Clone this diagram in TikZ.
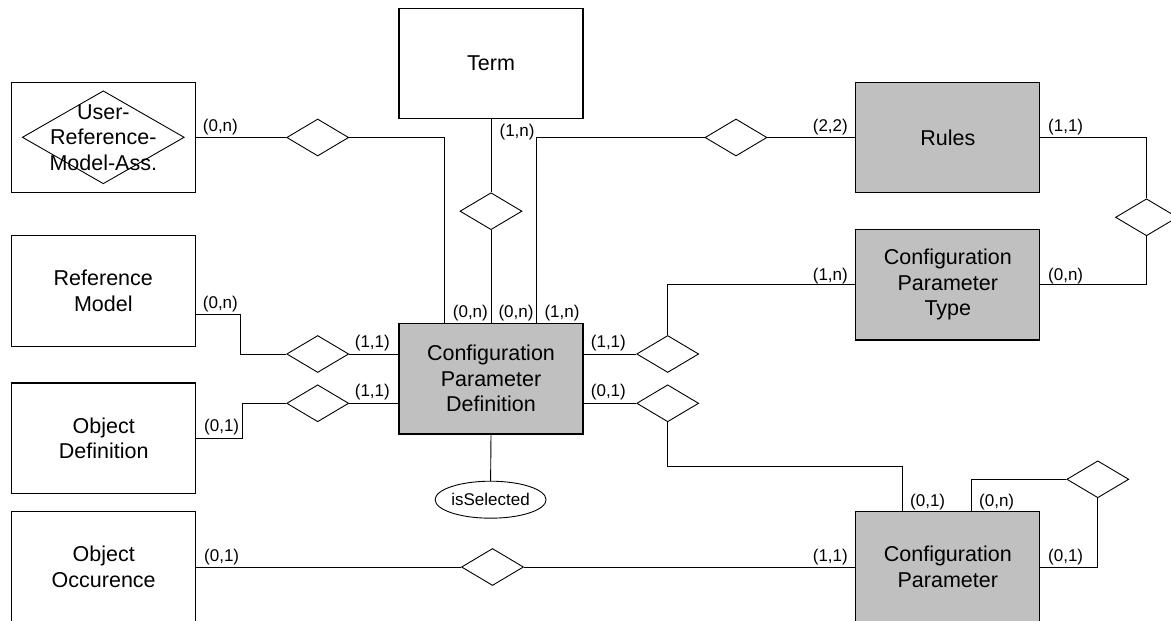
\documentclass[tikz,border=0pt]{standalone}
\usepackage{fontspec}
\setmainfont{Liberation Sans}
\usetikzlibrary{shapes.geometric}
\definecolor{boxgray}{HTML}{C0C0C0}
\newcommand\erMainFont{\fontsize{21.5}{25.5}\selectfont}
\newcommand\erCardFont{\fontsize{17}{20}\selectfont}
\begin{document}
\begin{tikzpicture}[x=1pt,y=-1pt,
  ent/.style={draw, line width=1.1pt, rectangle, minimum width=184pt, minimum height=110.5pt, inner sep=0pt, align=center, font=\erMainFont},
  wk/.style={ent, fill=boxgray},
  rel/.style={draw, diamond, line width=0.9pt, minimum width=62pt, minimum height=37pt, inner sep=0pt, aspect=1.676},
  card/.style={inner sep=0pt, font=\erCardFont},
  conn/.style={line width=0.9pt}]
\fill[white] (0,0) rectangle (1171,621);
\useasboundingbox (0,0) rectangle (1171,621);

% entities
\node[ent] (term) at (491,63.5) {Term};
\node[draw, diamond, line width=0.9pt, minimum width=162pt, minimum height=93pt, inner sep=0pt, aspect=1.742] (uradia) at (103.3,137.3) {};
\node[ent] (ura) at (103.3,137.5) {User-\\Reference-\\Model-Ass.};
\node[ent] (refm) at (103.3,290.9) {Reference\\Model};
\node[ent] (objdef) at (103.7,438.2) {Object\\Definition};
\node[ent] (objocc) at (103.7,567) {Object\\Occurence};
\node[wk] (cpd) at (491,378.7) {Configuration\\Parameter\\Definition};
\node[wk] (rules) at (947.8,137.5) {Rules};
\node[wk] (cpt) at (947.8,284.7) {Configuration\\Parameter\\Type};
\node[wk] (cp) at (947.8,567) {Configuration\\Parameter};
\node[draw, ellipse, line width=0.9pt, minimum width=104pt, minimum height=37pt, inner sep=0pt, font=\erCardFont] (issel) at (490.6,499.7) {isSelected};

% relationships
\node[rel] (d1) at (317.7,137.5) {};
\node[rel] (d2) at (491,211.2) {};
\node[rel] (d3) at (736,137.5) {};
\node[rel] (d4) at (317.7,354) {};
\node[rel] (d5) at (317.7,403.3) {};
\node[rel] (d6) at (667.7,354) {};
\node[rel] (d7) at (667.7,403.3) {};
\node[rel] (d8) at (492.5,567) {};
\node[rel] (d9) at (1146.5,217.3) {};
\node[rel] (d10) at (1097.8,479.3) {};

\coordinate (k7) at (902,466.7);
\coordinate (k10) at (971,479.3);

% connectors
\draw[conn] (ura.east) -- (d1.west);
\draw[conn] (d1.east) -| ([xshift=-46.7pt]cpd.north);
\draw[conn] (term.south) -- (d2.north);
\draw[conn] (d2.south) -- (cpd.north);
\draw[conn] ([xshift=45.5pt]cpd.north) |- (d3.west);
\draw[conn] (d3.east) -- (rules.west);
\draw[conn] ([yshift=-24pt]refm.east) -- ++(45,0) |- (d4.west);
\draw[conn] (d4.east) -- (d4.east -| cpd.west);
\draw[conn] (objdef.east) -- ++(46,0) |- (d5.west);
\draw[conn] (d5.east) -- (d5.east -| cpd.west);
\draw[conn] (d6.west -| cpd.east) -- (d6.west);
\draw[conn] (d6.north) |- (cpt.west);
\draw[conn] (d7.west -| cpd.east) -- (d7.west);
\draw[conn] (d7.south) |- (k7) -- (k7 |- cp.north);
\draw[conn] (objocc.east) -- (d8.west);
\draw[conn] (d8.east) -- (cp.west);
\draw[conn] (rules.east) -| (d9.north);
\draw[conn] (d9.south) |- (cpt.east);
\draw[conn] (k10 |- cp.north) -- (k10) -- (d10.west);
\draw[conn] (d10.south) |- (cp.east);
\draw[conn] (cpd.south) -- (issel.north);

% cardinalities
\node[card, anchor=west] (c1) at (202.7,126.7) {(0,n)};
\node[card, anchor=west] (c2) at (499.4,132.5) {(1,n)};
\node[card, anchor=east] (c3) at (848,127) {(2,2)};
\node[card, anchor=west] (c4) at (1048,127) {(1,1)};
\node[card, anchor=east] (c5) at (848,275.7) {(1,n)};
\node[card, anchor=west] (c6) at (1048,275.7) {(0,n)};
\node[card, anchor=west] (c7) at (202.7,304) {(0,n)};
\node[card, anchor=west] (c8) at (452.7,313.3) {(0,n)};
\node[card, anchor=west] (c9) at (498.3,313.3) {(0,n)};
\node[card, anchor=west] (c10) at (544.3,313.3) {(1,n)};
\node[card, anchor=east] (c11) at (390,343.3) {(1,1)};
\node[card, anchor=east] (c12) at (390,391.7) {(1,1)};
\node[card, anchor=west] (c13) at (590.7,343.3) {(1,1)};
\node[card, anchor=west] (c14) at (590.7,391.7) {(0,1)};
\node[card, anchor=west] (c15) at (204,427) {(0,1)};
\node[card, anchor=west] (c16) at (204,556.7) {(0,1)};
\node[card, anchor=east] (c17) at (848,556.7) {(1,1)};
\node[card, anchor=west] (c18) at (1048,556.7) {(0,1)};
\node[card, anchor=west] (c19) at (910,501.7) {(0,1)};
\node[card, anchor=west] (c20) at (979,501.7) {(0,n)};
\end{tikzpicture}
\end{document}
